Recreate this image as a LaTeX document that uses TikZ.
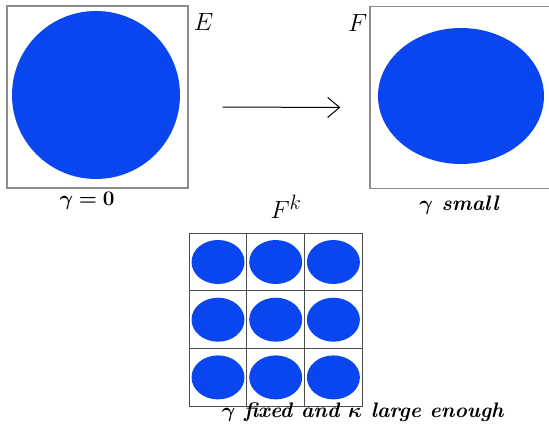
\documentclass[tikz,border=0pt]{standalone}
\usepackage{amsmath}
\usepackage{amssymb}
\usepackage{bm}
\usepackage{tikz}
\usepackage{xcolor}
\usetikzlibrary{arrows.meta,calc,positioning}
\definecolor{Blob}{RGB}{10,70,240}
\definecolor{Frame}{RGB}{140,140,140}

\begin{document}
\begin{tikzpicture}[
    x=1pt, y=-1pt,
    line width=1pt,
    >={Straight Barb[length=12pt,width=20pt,line width=1pt]},
    boxstyle/.style={draw=Frame, line width=1.2pt, minimum width=181pt, minimum height=182pt, inner sep=0pt},
    cellstyle/.style={draw=black!70, line width=0.8pt, minimum width=57.7pt, minimum height=57.7pt, inner sep=0pt},
    bigletter/.style={font=\fontsize{29}{29}\selectfont},
    handnote/.style={font=\bfseries\itshape\fontsize{21}{21}\selectfont}
]
  \useasboundingbox (0,0) rectangle (549,428);

  \node[boxstyle] (Ebox) at (97.5,97) {};
  \fill[Blob] (96,95) ellipse [x radius=84, y radius=84];
  \node[bigletter, anchor=west] (Elabel) at (190,22) {$E$};
  \node[handnote] (Enote) at (87,201) {$\bm{\gamma=0}$};

  \node[boxstyle] (Fbox) at (460.5,97.5) {};
  \fill[Blob] (461,96) ellipse [x radius=83, y radius=68];
  \node[bigletter, anchor=east] (Flabel) at (371,23) {$F$};
  \node[handnote] (Fnote) at (459,205) {$\bm{\gamma}$ small};

  \draw[->] ([xshift=34pt,yshift=-10pt]Ebox.east) -- ([xshift=-29pt,yshift=-10pt]Fbox.west);

  \node[bigletter] (Fklabel) at (286,207) {$F^k$};
  \foreach \i in {0,1,2} {
    \foreach \j in {0,1,2} {
      \node[cellstyle] (cell-\i-\j) at (218+57.7*\i, 262+57.7*\j) {};
      \fill[Blob] (cell-\i-\j.center) ellipse [x radius=26.5, y radius=22];
    }
  }
  \node[handnote, anchor=west] (Fknote) at (218,412) {$\bm{\gamma}$ fixed and $\bm{\kappa}$ large enough};
\end{tikzpicture}
\end{document}
